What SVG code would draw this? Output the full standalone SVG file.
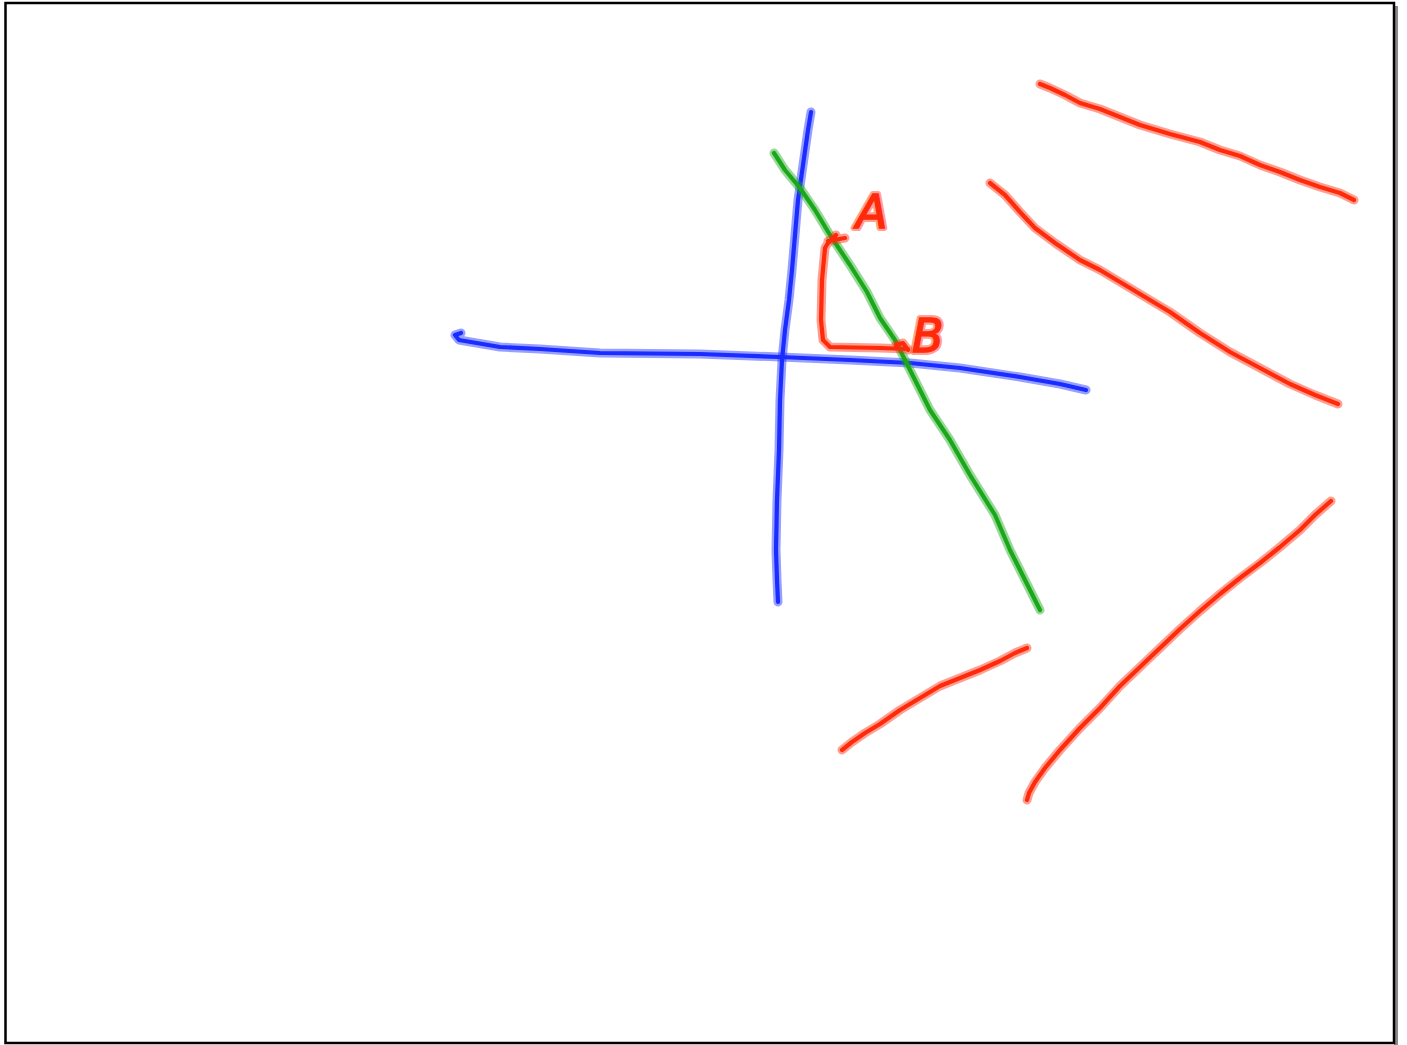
<svg xmlns="http://www.w3.org/2000/svg" width="1407" height="1045" viewBox="0 0 1407 1045">
<style>
.h{fill:none;stroke-linecap:round;stroke-linejoin:round;stroke-width:9;stroke-opacity:0.45}
.c{fill:none;stroke-linecap:round;stroke-linejoin:round;stroke-width:4.2}
.blue{stroke:#1a2cff}
.green{stroke:#1aa81a}
.red{stroke:#ff2a0a}
.lbl{font-family:"DejaVu Sans",sans-serif;font-style:italic;font-size:46px;fill:#ff2a0a;stroke:#ff2a0a;stroke-width:1.5;paint-order:stroke}
.lblh{font-family:"DejaVu Sans",sans-serif;font-style:italic;font-size:46px;fill:#ff2a0a;stroke:#ff2a0a;stroke-width:6;stroke-opacity:0.45;stroke-linejoin:round}
</style>
<defs>
<polyline id="bv" points="811,112 808,130 803,165 798,200 795,235 792,270 789,300 785,330 782,360 780,400 779,450 777,500 776,550 777,580 778,602"/>
<polyline id="bh" points="461,333 455,335 459,340 500,347 540,349 600,353 700,354 780,357 850,360 910,363 960,368 1020,377 1060,384 1086,390"/>
<polyline id="gl" points="774,153 785,170 800,188 815,210 830,235 850,265 867,292 880,318 895,340 910,370 930,410 950,440 970,475 995,515 1010,550 1025,580 1040,610"/>
<path id="tri" d="M828,241 L845,238 M836,235 L828,243 L825,248 L822,280 L821,320 L823,340 L830,347 L880,348 L908,349 M896,345 L903,343 L908,350"/>
<polyline id="r1" points="1040,84 1050,88 1065,95 1080,103 1100,109 1120,117 1140,125 1170,134 1200,142 1220,150 1240,156 1260,165 1280,172 1300,180 1320,187 1340,193 1354,200"/>
<polyline id="r2" points="990,183 1005,195 1020,212 1035,228 1055,243 1080,260 1100,270 1130,288 1170,312 1200,333 1230,352 1260,368 1290,384 1315,395 1338,404"/>
<polyline id="r3" points="842,750 852,742 865,733 880,724 900,710 920,698 940,686 960,678 980,670 1000,661 1015,653 1027,648"/>
<polyline id="r4" points="1331,501 1315,515 1300,530 1280,547 1260,563 1240,578 1220,594 1200,611 1180,629 1160,648 1140,667 1120,686 1100,708 1080,728 1060,750 1045,768 1035,782 1029,793 1027,800"/>
</defs>
<rect x="0" y="0" width="1407" height="1045" fill="#ffffff"/>
<rect x="1394" y="6" width="4" height="1039" fill="#8a8a8a"/>
<rect x="5.5" y="3" width="1388.5" height="1040" fill="#ffffff" stroke="#000000" stroke-width="2.5"/>
<g id="connectors">
<g id="blue-vertical"><use href="#bv" class="h blue"/><use href="#bv" class="c blue"/></g>
<g id="blue-horizontal"><use href="#bh" class="h blue"/><use href="#bh" class="c blue"/></g>
<g id="green-line"><use href="#gl" class="h green"/><use href="#gl" class="c green"/></g>
<g id="red-triangle"><use href="#tri" class="h red"/><use href="#tri" class="c red"/></g>
<g id="red-1"><use href="#r1" class="h red"/><use href="#r1" class="c red"/></g>
<g id="red-2"><use href="#r2" class="h red"/><use href="#r2" class="c red"/></g>
<g id="red-3"><use href="#r3" class="h red"/><use href="#r3" class="c red"/></g>
<g id="red-4"><use href="#r4" class="h red"/><use href="#r4" class="c red"/></g>
</g>
<g id="label-A"><text class="lblh" x="856" y="228">A</text><text class="lbl" x="856" y="228">A</text></g>
<g id="label-B"><text class="lblh" x="912" y="352">B</text><text class="lbl" x="912" y="352">B</text></g>
</svg>
